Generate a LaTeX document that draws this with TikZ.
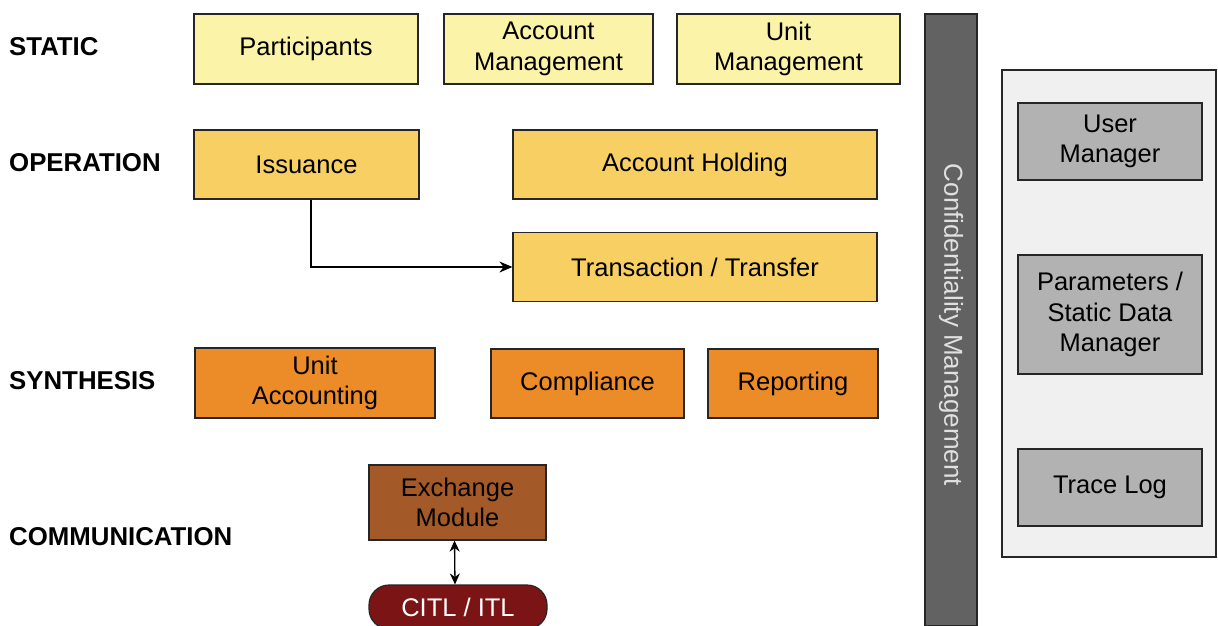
\documentclass[tikz,border=0pt]{standalone}
\usepackage{fontspec}
\setmainfont{Liberation Sans}
\usetikzlibrary{arrows.meta}
\definecolor{cstatic}{HTML}{FAF3A8}
\definecolor{coper}{HTML}{F7CF62}
\definecolor{csynth}{HTML}{EB8C28}
\definecolor{cexch}{HTML}{A35A28}
\definecolor{citl}{HTML}{7B1414}
\definecolor{cbar}{HTML}{626262}
\definecolor{cpanel}{HTML}{F0F0F0}
\definecolor{cgray}{HTML}{B2B2B2}
\definecolor{cline}{HTML}{262626}
\tikzset{
  box/.style={draw=cline, line width=1.2pt, inner sep=0pt, align=center,
    font=\fontsize{25.5}{30.6}\selectfont, text=black},
  lab/.style={anchor=west, inner sep=0pt, font=\fontsize{25.8}{31}\selectfont\bfseries},
  conn/.style={line width=1.3pt, draw=black, -{Stealth[length=13pt,width=11pt]}},
  dconn/.style={line width=1.3pt, draw=black, {Stealth[length=11pt,width=10pt]}-{Stealth[length=11pt,width=10pt]}}
}
\begin{document}
\begin{tikzpicture}[x=1pt,y=-1pt]
\useasboundingbox[fill=white] (0,0) rectangle (1218,625);
% row labels
\node[lab] (lstatic) at (9,47) {STATIC};
\node[lab] (loper) at (9,163) {OPERATION};
\node[lab] (lsynth) at (9,381) {SYNTHESIS};
\node[lab] (lcomm) at (9,537) {COMMUNICATION};
% static
\node[box, fill=cstatic, minimum width=224pt, minimum height=70pt] (part) at (306,49) {Participants};
\node[box, fill=cstatic, minimum width=209pt, minimum height=70pt] (acctm) at (548.5,49) {Account\\Management};
\node[box, fill=cstatic, minimum width=223pt, minimum height=70pt] (unitm) at (788.5,49) {Unit\\Management};
% operation
\node[box, fill=coper, minimum width=225pt, minimum height=69pt] (iss) at (306.5,164.5) {Issuance};
\node[box, fill=coper, minimum width=364pt, minimum height=69pt] (hold) at (695,164.5) {Account Holding};
\node[box, fill=coper, minimum width=364pt, minimum height=69pt] (trans) at (695,267) {Transaction / Transfer};
% synthesis
\node[box, fill=csynth, minimum width=240pt, minimum height=70pt] (unitacc) at (315,383) {Unit\\Accounting};
\node[box, fill=csynth, minimum width=193pt, minimum height=69pt] (comp) at (587.5,383.5) {Compliance};
\node[box, fill=csynth, minimum width=170pt, minimum height=69pt] (rep) at (793,383.5) {Reporting};
% communication
\node[box, fill=cexch, minimum width=177pt, minimum height=75pt] (exch) at (457.5,502.5) {Exchange\\Module};
\node[box, fill=citl, text=white, rounded corners=20pt, minimum width=178pt, minimum height=44pt] (citlnode) at (458,607) {CITL / ITL};
% confidentiality bar
\node[box, fill=cbar, draw=cline, minimum width=52pt, minimum height=612pt] (conf) at (951,320) {};
\node[font=\fontsize{26}{31}\selectfont, text=black!12, rotate=-90, inner sep=0pt] (conftext) at (951,325) {Confidentiality Management};
% right panel
\node[box, fill=cpanel, minimum width=214pt, minimum height=487pt] (panel) at (1109,313.5) {};
\node[box, fill=cgray, minimum width=184pt, minimum height=77pt] (user) at (1110,141.5) {User\\Manager};
\node[box, fill=cgray, minimum width=184pt, minimum height=119pt] (param) at (1110,314.5) {Parameters /\\Static Data\\Manager};
\node[box, fill=cgray, minimum width=184pt, minimum height=77pt] (trace) at (1110,487.5) {Trace Log};
% connectors
\draw[conn] ([xshift=4.5pt]iss.south) |- (trans.west);
\draw[dconn] ([xshift=-3pt]exch.south) -- ([xshift=-3pt]citlnode.north);
\end{tikzpicture}
\end{document}
